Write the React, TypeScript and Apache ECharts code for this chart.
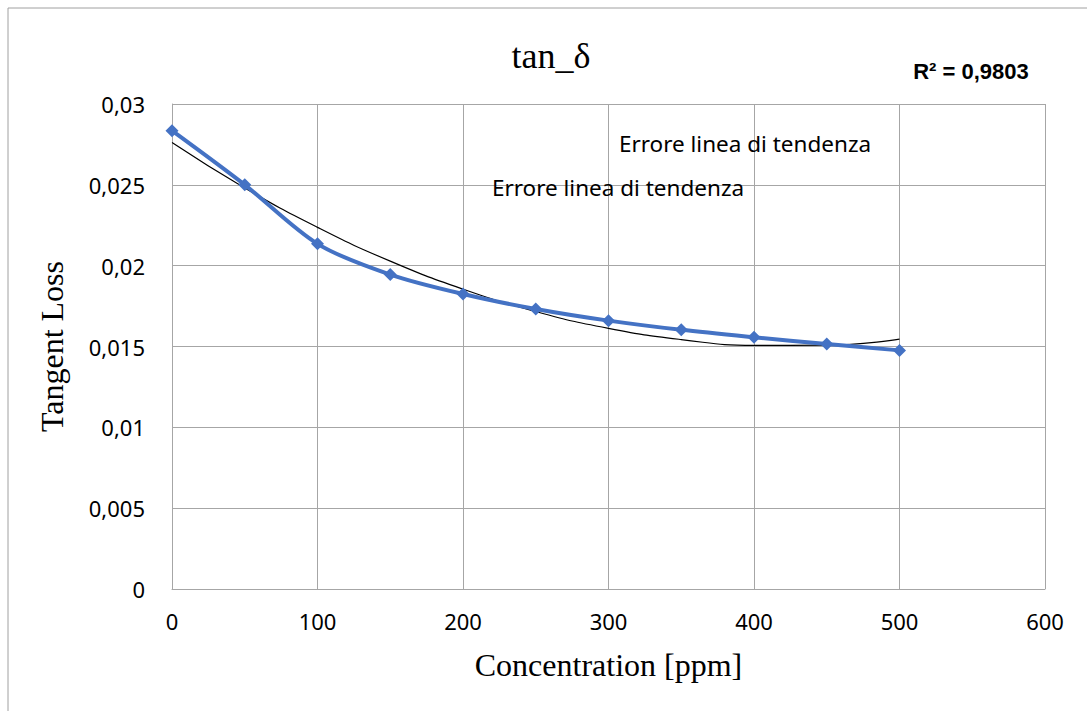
import React, { useEffect, useRef } from "react";
import * as echarts from "echarts";

const concentration = [0, 50, 100, 150, 200, 250, 300, 350, 400, 450, 500];
const tangentLoss = [0.02835, 0.02500, 0.02135, 0.01945, 0.01825, 0.01732, 0.01660, 0.01603, 0.01557, 0.01515, 0.01476];
const trendX = [0, 50, 100, 150, 200, 250, 300, 350, 400, 450, 500];
const trendY = [0.02762, 0.02481, 0.02237, 0.02028, 0.01855, 0.01716, 0.01612, 0.01543, 0.01507, 0.01508, 0.01546];
const titleText = "tan_δ";
const r2Text = "R² = 0,9803";
const annotationText = "Errore linea di tendenza";
const xAxisName = "Concentration [ppm]";
const yAxisName = "Tangent Loss";

export default function App() {
  const ref = useRef<HTMLDivElement>(null);
  useEffect(() => {
    if (!ref.current) return;
    const chart = echarts.init(ref.current, null, { renderer: "svg" });
    const sans = "'Noto Sans', 'Open Sans', sans-serif";
    const serif = "'Liberation Serif', 'DejaVu Serif', serif";
    chart.setOption({
      animation: false,
      backgroundColor: "#ffffff",
      title: {
        text: titleText,
        left: 546,
        top: 51,
        textAlign: "center",
        textVerticalAlign: "middle",
        textStyle: { fontFamily: serif, fontSize: 36, fontWeight: "normal", color: "#000" },
      },
      grid: { left: 172, top: 104, right: 42, bottom: 122, containLabel: false },
      xAxis: {
        type: "value",
        min: 0,
        max: 600,
        interval: 100,
        name: xAxisName,
        nameLocation: "middle",
        nameGap: 60,
        nameTextStyle: { fontFamily: serif, fontSize: 32, color: "#000" },
        axisLine: { show: true, lineStyle: { color: "#a6a6a6", width: 1 } },
        axisTick: { show: false },
        splitLine: { show: true, lineStyle: { color: "#a6a6a6", width: 1 } },
        axisLabel: { fontFamily: sans, fontSize: 22, color: "#000", margin: 21 },
      },
      yAxis: {
        type: "value",
        min: 0,
        max: 0.03,
        interval: 0.005,
        name: yAxisName,
        nameLocation: "middle",
        nameGap: 104,
        nameRotate: 90,
        nameTextStyle: { fontFamily: serif, fontSize: 32, color: "#000" },
        axisLine: { show: true, lineStyle: { color: "#a6a6a6", width: 1 } },
        axisTick: { show: false },
        splitLine: { show: true, lineStyle: { color: "#a6a6a6", width: 1 } },
        axisLabel: {
          fontFamily: sans,
          fontSize: 22,
          color: "#000",
          margin: 27,
          formatter: (v: number) => Number(v.toFixed(4)).toString().replace(".", ","),
        },
      },
      series: [
        {
          name: "trend",
          type: "line",
          data: trendX.map((x, i) => [x, trendY[i]]),
          smooth: 0.5,
          showSymbol: false,
          symbol: "none",
          lineStyle: { color: "#000", width: 1.2 },
          z: 3,
        },
        {
          name: "tan_δ",
          type: "line",
          data: concentration.map((x, i) => [x, tangentLoss[i]]),
          smooth: 0.3,
          symbol: "diamond",
          symbolSize: 13,
          itemStyle: { color: "#4472C4" },
          lineStyle: { color: "#4472C4", width: 4 },
          z: 4,
        },
      ],
      graphic: [
        {
          type: "polyline",
          shape: { points: [[8, 711], [8, 8], [1087, 8]] },
          style: { stroke: "#a0a0a0", lineWidth: 1, fill: "none" },
          silent: true,
        },
        {
          type: "text",
          x: 971,
          y: 71,
          style: {
            text: r2Text,
            fontFamily: "'Liberation Sans', 'Open Sans', sans-serif",
            fontSize: 22,
            fontWeight: "bold",
            fill: "#000",
            align: "center",
            verticalAlign: "middle",
          },
        },
        {
          type: "text",
          x: 745,
          y: 143,
          z: 10,
          style: {
            text: annotationText,
            fontFamily: sans,
            fontSize: 22.5,
            fill: "#000",
            align: "center",
            verticalAlign: "middle",
          },
        },
        {
          type: "text",
          x: 618,
          y: 187,
          z: 10,
          style: {
            text: annotationText,
            fontFamily: sans,
            fontSize: 22.5,
            fill: "#000",
            align: "center",
            verticalAlign: "middle",
          },
        },
      ],
    });
    return () => chart.dispose();
  }, []);
  return (
    <div
      ref={ref}
      style={{ position: "fixed", left: 0, top: 0, width: 1087, height: 711, background: "#fff" }}
    />
  );
}
